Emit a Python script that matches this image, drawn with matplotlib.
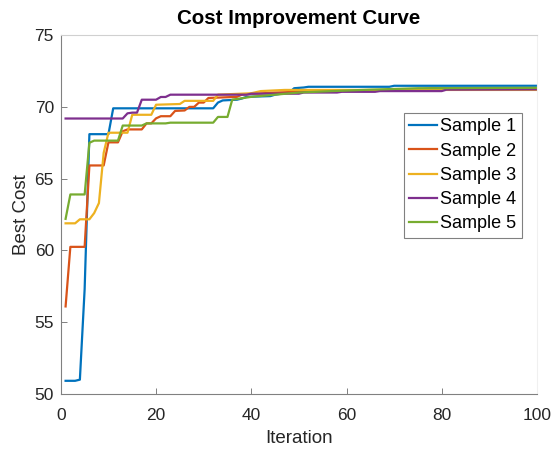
import numpy as np
import matplotlib
matplotlib.use("Agg")
import matplotlib.pyplot as plt

# best cost per sample at the iterations where it changes
s1_iter = [1, 3, 4, 5, 6, 10, 11, 32, 33, 34, 37, 38, 39, 44, 45, 48, 49, 51, 52, 69, 70, 100]
s1_cost = [50.92, 50.92, 51.0, 57.3, 68.1, 68.1, 69.9, 69.9, 70.3, 70.45, 70.5, 70.58, 70.7,
           70.75, 70.85, 71.0, 71.3, 71.35, 71.4, 71.4, 71.47, 71.47]

s2_iter = [1, 2, 5, 6, 9, 10, 12, 13, 14, 17, 18, 19, 20, 21, 23, 24, 26, 27, 28, 29, 30, 31,
           37, 38, 40, 45, 55, 75, 78, 100]
s2_cost = [56.1, 60.25, 60.25, 65.92, 65.92, 67.53, 67.53, 68.3, 68.43, 68.43, 68.85, 68.85,
           69.2, 69.35, 69.35, 69.72, 69.75, 70.0, 70.0, 70.3, 70.3, 70.62, 70.7, 70.85, 70.9,
           71.0, 71.1, 71.2, 71.3, 71.3]

s3_iter = [1, 3, 4, 6, 7, 8, 9, 10, 14, 15, 19, 20, 25, 26, 32, 33, 40, 42, 47, 100]
s3_cost = [61.89, 61.89, 62.17, 62.17, 62.6, 63.3, 66.8, 68.2, 68.2, 69.45, 69.45, 70.15,
           70.2, 70.42, 70.42, 70.85, 70.95, 71.1, 71.18, 71.18]

s4_iter = [1, 13, 14, 15, 16, 17, 20, 21, 22, 23, 39, 40, 50, 51, 58, 59, 66, 67, 80, 81, 100]
s4_cost = [69.19, 69.19, 69.55, 69.6, 69.6, 70.5, 70.5, 70.69, 70.69, 70.85, 70.85, 70.92,
           70.92, 71.0, 71.0, 71.05, 71.05, 71.1, 71.1, 71.2, 71.22]

s5_iter = [1, 2, 5, 6, 7, 12, 13, 17, 18, 22, 23, 32, 33, 35, 36, 38, 40, 45, 50, 57, 65, 75, 100]
s5_cost = [62.2, 63.9, 63.9, 67.5, 67.65, 67.65, 68.7, 68.7, 68.85, 68.85, 68.9, 68.9, 69.3,
           69.3, 70.5, 70.6, 70.7, 70.85, 71.0, 71.1, 71.2, 71.3, 71.33]

labels = ["Sample 1", "Sample 2", "Sample 3", "Sample 4", "Sample 5"]
colors = ["#0072BD", "#D95319", "#EDB120", "#7E2F8E", "#77AC30"]

plt.rcParams['font.family'] = ['Liberation Sans', 'DejaVu Sans']

fig = plt.figure(figsize=(5.53, 4.5), dpi=100)
ax = fig.add_axes([0.110, 0.1244, 0.861, 0.7976])

series = [(s1_iter, s1_cost), (s2_iter, s2_cost), (s3_iter, s3_cost),
          (s4_iter, s4_cost), (s5_iter, s5_cost)]
for (it, cost), lab, col in zip(series, labels, colors):
    ax.plot(it, cost, color=col, lw=1.6, label=lab)

ax.set_xlim(0, 100)
ax.set_ylim(50, 75)
ax.set_xticks(np.arange(0, 101, 20))
ax.set_yticks(np.arange(50, 76, 5))
ax.tick_params(direction="in", length=4, width=0.7, color="#808080",
               labelsize=12.5, labelcolor="#262626")
ax.tick_params(axis="x", pad=10)
ax.tick_params(axis="y", pad=5)
for side in ["left", "bottom"]:
    ax.spines[side].set_color("#808080")
    ax.spines[side].set_linewidth(0.8)
ax.spines["top"].set_color("#d0d0d0")
ax.spines["right"].set_color("#f0f0f0")

ax.set_xlabel("Iteration", fontsize=13.5, color="#262626", labelpad=5)
ax.set_ylabel("Best Cost", fontsize=13.5, color="#262626", labelpad=3)
ax.set_title("Cost Improvement Curve", fontsize=14.8, fontweight="bold", pad=8)

leg = ax.legend(loc="upper right", bbox_to_anchor=(0.968, 0.783), fontsize=13,
                fancybox=False, edgecolor="#808080", framealpha=1,
                handlelength=1.5, handletextpad=0.2, borderpad=0.3, labelspacing=0.4,
                borderaxespad=0)
leg.get_frame().set_linewidth(0.8)

fig.savefig("out.png", dpi=100)
